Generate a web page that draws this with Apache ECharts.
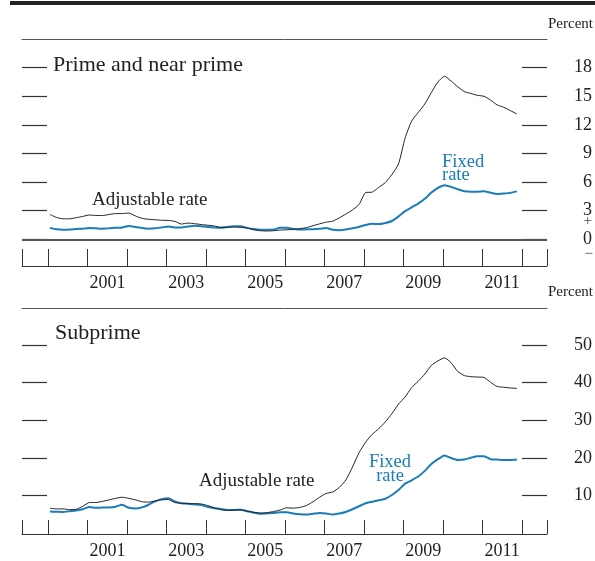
<!DOCTYPE html>
<html><head><meta charset="utf-8">
<script src="https://cdn.jsdelivr.net/npm/echarts@6/dist/echarts.min.js"></script>
<style>html,body{margin:0;padding:0;background:#fff}#c{width:595px;height:561px}</style>
</head><body><div id="c"></div>
<script>
const months = [
 "2000-01","2000-03","2000-05","2000-07","2000-09","2000-11",
 "2001-01","2001-03","2001-05","2001-07","2001-09","2001-11",
 "2002-01","2002-03","2002-05","2002-07","2002-09","2002-11",
 "2003-01","2003-03","2003-05","2003-07","2003-09","2003-11",
 "2004-01","2004-03","2004-05","2004-07","2004-09","2004-11",
 "2005-01","2005-03","2005-05","2005-07","2005-09","2005-11",
 "2006-01","2006-03","2006-05","2006-07","2006-09","2006-11",
 "2007-01","2007-03","2007-05","2007-07","2007-09","2007-11",
 "2008-01","2008-03","2008-05","2008-07","2008-09","2008-11",
 "2009-01","2009-03","2009-05","2009-07","2009-09","2009-11",
 "2010-01","2010-03","2010-05","2010-07","2010-09","2010-11",
 "2011-01","2011-03","2011-05","2011-07","2011-09","2011-11"
];
const primeAdjustable = [
 2.6,2.3,2.15,2.15,2.27,2.4,
 2.55,2.5,2.5,2.6,2.7,2.7,
 2.75,2.45,2.2,2.1,2.05,2.0,
 1.98,1.88,1.6,1.7,1.64,1.55,
 1.48,1.4,1.25,1.25,1.29,1.25,
 1.18,1.0,0.9,0.87,0.9,0.97,
 1.0,1.04,1.12,1.22,1.43,1.62,
 1.8,1.9,2.25,2.65,3.08,3.65,
 4.9,4.95,5.45,5.95,6.8,7.9,
 10.6,12.4,13.3,14.2,15.4,16.5,
 17.1,16.6,16.0,15.5,15.3,15.1,
 15.0,14.6,14.1,13.85,13.5,13.15
];
const primeFixed = [
 1.2,1.05,1.0,1.02,1.08,1.12,
 1.18,1.15,1.12,1.15,1.2,1.25,
 1.4,1.3,1.18,1.12,1.15,1.25,
 1.35,1.25,1.25,1.35,1.42,1.38,
 1.3,1.25,1.22,1.3,1.36,1.36,
 1.2,1.08,1.01,1.0,1.02,1.2,
 1.2,1.1,1.02,1.05,1.06,1.1,
 1.18,1.0,0.96,1.02,1.15,1.3,
 1.5,1.62,1.6,1.72,1.92,2.4,
 2.95,3.35,3.75,4.25,4.9,5.4,
 5.68,5.5,5.25,5.05,5.0,5.0,
 5.03,4.88,4.75,4.8,4.87,5.03
];
const subprimeAdjustable = [
 6.7,6.5,6.5,6.3,6.4,7.2,
 8.2,8.2,8.5,8.9,9.3,9.6,
 9.3,8.9,8.4,8.3,8.6,8.9,
 9.0,8.2,8.0,7.9,7.9,7.8,
 7.4,6.8,6.3,6.1,6.2,6.2,
 5.9,5.6,5.4,5.5,5.8,6.2,
 6.8,6.7,6.9,7.4,8.4,9.6,
 10.6,11.0,12.2,14.2,17.6,21.4,
 24.2,26.3,27.8,29.6,31.8,34.3,
 36.2,38.7,40.4,42.3,44.6,45.8,
 46.6,45.3,43.0,41.9,41.6,41.5,
 41.4,40.1,39.0,38.8,38.6,38.5
];
const subprimeFixed = [
 5.8,5.75,5.7,5.9,6.1,6.4,
 7.0,6.8,6.85,6.9,7.1,7.6,
 6.8,6.6,6.9,7.6,8.5,9.1,
 9.3,8.5,8.0,7.9,7.7,7.5,
 7.0,6.7,6.5,6.2,6.2,6.3,
 5.9,5.5,5.2,5.3,5.4,5.6,
 5.6,5.3,5.1,5.0,5.2,5.4,
 5.3,5.0,5.3,5.7,6.4,7.2,
 8.0,8.4,8.8,9.2,10.2,11.5,
 13.2,14.1,15.1,16.6,18.4,19.7,
 20.7,20.0,19.5,19.6,20.1,20.5,
 20.5,19.7,19.6,19.5,19.5,19.6
];
const yearTicks = [2000,2001,2002,2003,2004,2005,2006,2007,2008,2009,2010,2011,2012];
const yearLabels = [2001,2003,2005,2007,2009,2011];
const primeTicks = [0,3,6,9,12,15,18];
const subprimeTicks = [10,20,30,40,50];

const X_MIN = 1999.335, X_MAX = 2012.638;
const BLUE = '#1a7cb9', INK = '#222', SERIF = '"Liberation Serif", "DejaVu Serif", serif';

function toYear(m){ const p = m.split('-').map(Number); return p[0] + (p[1]-0.5)/12; }
function pairs(vals){ return months.map((m,i)=>[toYear(m), vals[i]]); }

function bottomX(grid, tickLen, margin){
  return {
    gridIndex: grid, type:'value', min:X_MIN, max:X_MAX, position:'bottom',
    axisLine:{show:true, onZero:false, lineStyle:{color:'#333', width:1}},
    axisTick:{show:true, inside:true, length:tickLen, customValues:[X_MIN].concat(yearTicks,[X_MAX]), lineStyle:{color:'#333', width:1}},
    axisLabel:{show:true, customValues: yearLabels.map(y=>y+0.5), formatter: v=>String(Math.floor(v)),
      color:INK, fontFamily:SERIF, fontSize:18, margin:margin},
    splitLine:{show:false}
  };
}
function topX(grid){
  return {
    gridIndex: grid, type:'value', min:X_MIN, max:X_MAX, position:'top',
    axisLine:{show:true, onZero:false, lineStyle:{color:'#555', width:1}},
    axisTick:{show:false}, axisLabel:{show:false}, splitLine:{show:false}
  };
}
function yAx(grid, pos, min, max, ticks, labels){
  return {
    gridIndex: grid, type:'value', min:min, max:max, position:pos,
    axisLine:{show:false, onZero:false},
    axisTick:{show:true, inside:true, length:25, customValues:ticks, lineStyle:{color:'#333', width:1.2}},
    axisLabel: labels ? {show:true, customValues:ticks, align:'right', margin:45, color:INK, fontFamily:SERIF, fontSize:18} : {show:false},
    splitLine:{show:false}
  };
}

const chart = echarts.init(document.getElementById('c'), null, {renderer:'canvas'});
chart.setOption({
  animation:false,
  backgroundColor:'#fff',
  grid:[
    {left:22, right:47, top:39, height:227},
    {left:22, right:47, top:308, height:226}
  ],
  xAxis:[ bottomX(0, 17, 8), topX(0), bottomX(1, 14, 8), topX(1) ],
  yAxis:[
    yAx(0,'left',-2.80,21.01,primeTicks,false),
    yAx(0,'right',-2.80,21.01,primeTicks,true),
    yAx(1,'left',-0.16,59.83,subprimeTicks,false),
    yAx(1,'right',-0.16,59.83,subprimeTicks,true)
  ],
  series:[
    {type:'line', xAxisIndex:0, yAxisIndex:0, data:pairs(primeFixed), showSymbol:false, smooth:0.2, z:3,
     lineStyle:{color:BLUE, width:2},
     markLine:{silent:true, symbol:['none','none'], label:{show:false}, data:[{yAxis:0}],
       lineStyle:{color:'#555', width:2, type:'solid'}}},
    {type:'line', xAxisIndex:0, yAxisIndex:0, data:pairs(primeAdjustable), showSymbol:false, smooth:0.2, z:4,
     lineStyle:{color:INK, width:1}},
    {type:'line', xAxisIndex:2, yAxisIndex:2, data:pairs(subprimeFixed), showSymbol:false, smooth:0.2, z:3,
     lineStyle:{color:BLUE, width:2}},
    {type:'line', xAxisIndex:2, yAxisIndex:2, data:pairs(subprimeAdjustable), showSymbol:false, smooth:0.2, z:4,
     lineStyle:{color:INK, width:1}}
  ],
  graphic:[
    {type:'rect', shape:{x:10, y:1, width:585, height:4}, style:{fill:'#222'}},
    {type:'text', x:593, y:24, style:{text:'Percent', fontSize:15, fontFamily:SERIF, fill:INK, align:'right', verticalAlign:'middle'}},
    {type:'text', x:593, y:292, style:{text:'Percent', fontSize:15, fontFamily:SERIF, fill:INK, align:'right', verticalAlign:'middle'}},
    {type:'text', x:53, y:65, style:{text:'Prime and near prime', fontSize:22, fontFamily:SERIF, fill:INK, align:'left', verticalAlign:'middle'}},
    {type:'text', x:55, y:333, style:{text:'Subprime', fontSize:22, fontFamily:SERIF, fill:INK, align:'left', verticalAlign:'middle'}},
    {type:'text', x:92, y:200, style:{text:'Adjustable rate', fontSize:19, fontFamily:SERIF, fill:INK, align:'left', verticalAlign:'middle'}},
    {type:'text', x:199, y:481, style:{text:'Adjustable rate', fontSize:19, fontFamily:SERIF, fill:INK, align:'left', verticalAlign:'middle'}},
    {type:'text', x:442, y:162, style:{text:'Fixed', fontSize:18.5, fontFamily:SERIF, fill:BLUE, align:'left', verticalAlign:'middle'}},
    {type:'text', x:442, y:175, style:{text:'rate', fontSize:18.5, fontFamily:SERIF, fill:BLUE, align:'left', verticalAlign:'middle'}},
    {type:'text', x:390, y:462, style:{text:'Fixed', fontSize:18.5, fontFamily:SERIF, fill:BLUE, align:'center', verticalAlign:'middle'}},
    {type:'text', x:390, y:476, style:{text:'rate', fontSize:18.5, fontFamily:SERIF, fill:BLUE, align:'center', verticalAlign:'middle'}},
    {type:'text', x:592, y:221, style:{text:'+', fontSize:15, fontFamily:SERIF, fill:'#444', align:'right', verticalAlign:'middle'}},
    {type:'text', x:593, y:254, style:{text:'\u2212', fontSize:15, fontFamily:SERIF, fill:'#444', align:'right', verticalAlign:'middle'}}
  ]
});
</script>
</body></html>
